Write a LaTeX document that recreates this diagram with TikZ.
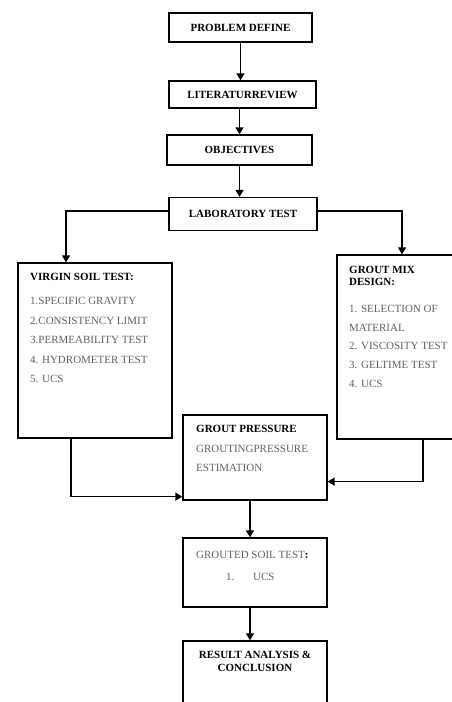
\documentclass[tikz,border=0pt]{standalone}
\usepackage{fontspec}
\setmainfont{Liberation Serif}
\usetikzlibrary{arrows.meta,positioning}
\tikzset{
  box/.style={draw, line width=1.3pt, inner sep=0pt},
  arr/.style={line width=1.6pt, -{Triangle[length=7pt,width=8pt]}},
  hd/.style={font=\bfseries\fontsize{11}{12}\selectfont, inner sep=0pt},
  itm/.style={text=black!62, font=\fontsize{11}{12}\selectfont, inner sep=0pt, anchor=base west},
}
\begin{document}
\begin{tikzpicture}[x=1pt,y=-1pt]
  \useasboundingbox (0,0) rectangle (451,702);

  % top chain
  \node[box, hd, minimum width=143pt, minimum height=29pt] (PD) at (240.5,27.5) {PROBLEM DEFINE};
  \node[box, hd, minimum width=147pt, minimum height=27pt] (LR) at (242.5,94.5) {LITERATURREVIEW};
  \node[box, hd, minimum width=145pt, minimum height=30pt] (OB) at (239.5,150) {OBJECTIVES};
  \node[box, hd, minimum width=148pt, minimum height=33pt] (LT) at (243,214) {LABORATORY TEST};

  % side boxes
  \node[box, minimum width=154pt, minimum height=175pt] (VS) at (95,350.5) {};
  \node[box, minimum width=130pt, minimum height=184pt] (GM) at (402,347) {};
  \node[box, minimum width=144pt, minimum height=85pt] (GP) at (255,457.5) {};
  \node[box, minimum width=144pt, minimum height=69pt] (GS) at (255,572.5) {};
  \node[box, minimum width=144pt, minimum height=80pt] (RA) at (255,681) {};

  % virgin soil
  \node[hd, anchor=base west] (VSa) at (30,280) {VIRGIN SOIL TEST:};
  \node[itm] (VSb) at (30,304) {1.SPECIFIC GRAVITY};
  \node[itm] (VSc) at (30,324) {2.CONSISTENCY LIMIT};
  \node[itm] (VSd) at (30,343) {3.PERMEABILITY TEST};
  \node[itm] (VSe) at (30,363) {4. HYDROMETER TEST};
  \node[itm] (VSf) at (30,382) {5. UCS};

  % grout mix
  \node[hd, anchor=base west] (GMa) at (349,273) {GROUT MIX};
  \node[hd, anchor=base west] (GMb) at (349,285) {DESIGN:};
  \node[itm] (GMc) at (349,312) {1. SELECTION OF};
  \node[itm] (GMd) at (349,331) {MATERIAL};
  \node[itm] (GMe) at (349,349) {2. VISCOSITY TEST};
  \node[itm] (GMf) at (349,368) {3. GELTIME TEST};
  \node[itm] (GMg) at (349,387) {4. UCS};

  % grout pressure
  \node[hd, anchor=base west] (GPa) at (196,432) {GROUT PRESSURE};
  \node[itm] (GPb) at (196,452) {GROUTINGPRESSURE};
  \node[itm] (GPc) at (196,471) {ESTIMATION};

  % grouted soil
  \node[itm] (GSa) at (196,558) {GROUTED SOIL TEST\textcolor{black}{\textbf{:}}};
  \node[itm] (GSb) at (226,580) {1.};
  \node[itm] (GSc) at (253,580) {UCS};

  % result
  \node[hd, anchor=base] (RAa) at (255,658) {RESULT ANALYSIS \&};
  \node[hd, anchor=base] (RAb) at (255,671) {CONCLUSION};

  \draw[arr] (PD.south) -- (PD.south |- LR.north);
  \draw[arr] (LR.south -| OB) -- (OB.north);
  \draw[arr] (OB.south) -- (OB.south |- LT.north);
  \draw[arr] ([yshift=3]LT.west) -| ([xshift=-29]VS.north);
  \draw[arr] ([yshift=3]LT.east) -| (GM.north);
  \draw[arr] ([xshift=-24]VS.south) |- ([yshift=4]GP.south west);
  \draw[arr] ([xshift=21]GM.south) |- ([yshift=19]GP.south east);
  \draw[arr] ([xshift=-5]GP.south) -- ([xshift=-5]GS.north);
  \draw[arr] ([xshift=-5]GS.south) -- ([xshift=-5]RA.north);
\end{tikzpicture}
\end{document}
